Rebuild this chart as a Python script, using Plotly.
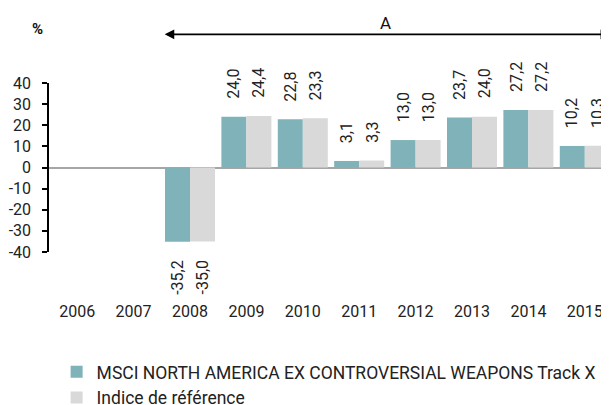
import plotly.graph_objects as go

years = ["2006", "2007", "2008", "2009", "2010", "2011", "2012", "2013", "2014", "2015"]
fund_name = "MSCI NORTH AMERICA EX CONTROVERSIAL WEAPONS Track X"
bench_name = "Indice de référence"
fund_values = [None, None, -35.2, 24.0, 22.8, 3.1, 13.0, 23.7, 27.2, 10.2]
bench_values = [None, None, -35.0, 24.4, 23.3, 3.3, 13.0, 24.0, 27.2, 10.3]
y_ticks = [-40, -30, -20, -10, 0, 10, 20, 30, 40]

FONT = "Roboto"
TEAL = "#7fb3b9"
GREY = "#d9d9d9"
BARGAP = 0.113

fig = go.Figure()
fig.add_trace(go.Bar(x=years, y=fund_values, name=fund_name, marker=dict(color=TEAL, line=dict(width=0))))
fig.add_trace(go.Bar(x=years, y=bench_values, name=bench_name, marker=dict(color=GREY, line=dict(width=0))))

def fmt(v):
    return f"{v:.1f}".replace(".", ",")

half = (1 - BARGAP) / 4
annotations = []
for series, offset in ((fund_values, -half), (bench_values, half)):
    for i, v in enumerate(series):
        if v is None:
            continue
        pos = v >= 0
        annotations.append(dict(
            x=i + offset, y=v, xref="x", yref="y", text=fmt(v), showarrow=False,
            textangle=-90, yanchor="bottom" if pos else "top", xanchor="center",
            yshift=16 if pos else -16, font=dict(family=FONT, size=16, color="#222"),
        ))

# period arrow (spans from 2008 to the end of the chart)
annotations.append(dict(
    x=0.995, y=1.288, xref="paper", yref="paper", ax=-447, ay=0, axref="pixel", ayref="pixel",
    text="", showarrow=True, arrowhead=2, startarrowhead=2, arrowside="end+start",
    arrowsize=1.2, startarrowsize=1.2, arrowwidth=1.6, arrowcolor="black",
))
annotations.append(dict(
    x=0.5975, y=1.355, xref="paper", yref="paper", text="A", showarrow=False,
    xanchor="center", yanchor="middle",
    font=dict(family=FONT, size=17, color="#111"),
))
annotations.append(dict(
    x=-0.02, y=1.318, xref="paper", yref="paper", text="<b>%</b>", showarrow=False,
    xanchor="center", yanchor="middle",
    font=dict(family=FONT, size=15, color="#111"),
))

fig.update_layout(
    width=609, height=420, autosize=False,
    margin=dict(l=41, r=4, t=75, b=176),
    plot_bgcolor="white", paper_bgcolor="white",
    barmode="group", bargap=BARGAP, bargroupgap=0,
    font=dict(family=FONT, size=16, color="#222"),
    annotations=annotations,
    showlegend=True,
    legend=dict(
        x=0.0135, y=-0.6035, xanchor="left", yanchor="top",
        orientation="v", font=dict(family=FONT, size=17.5, color="#222"), traceorder="normal",
        bgcolor="rgba(0,0,0,0)", tracegroupgap=0,
    ),
    xaxis=dict(
        type="category", range=[-0.5, 9.5], showline=False, ticks="", showgrid=False,
        zeroline=False, tickfont=dict(family=FONT, size=16, color="#222"),
        ticklabelstandoff=48, automargin=False,
    ),
    yaxis=dict(
        range=[-40, 40], tickvals=y_ticks, ticktext=[str(t) for t in y_ticks],
        showline=True, linecolor="black", linewidth=1.5,
        ticks="outside", ticklen=5, tickwidth=1.5, tickcolor="black",
        showgrid=False, zeroline=True, zerolinecolor="#a6a6a6", zerolinewidth=2,
        tickfont=dict(family=FONT, size=16, color="#222"), ticklabelstandoff=8,
        automargin=False,
    ),
)

fig.write_html("out.html")
